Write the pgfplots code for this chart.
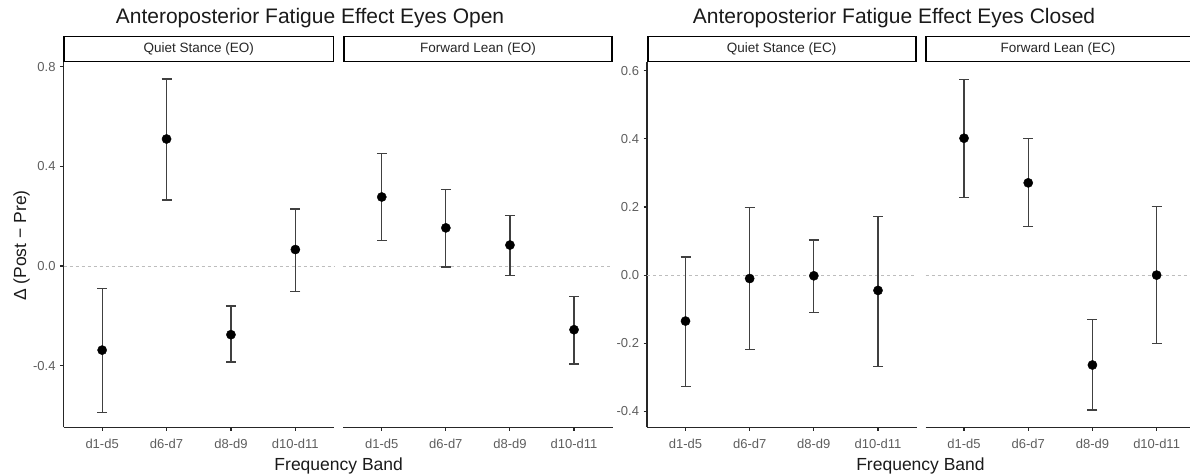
\documentclass[border=0pt]{standalone}
\usepackage{pgfplots}
\pgfplotsset{compat=1.18}
\usepackage{pgfplotstable}
\usepackage{fontspec}
\setmainfont{Liberation Sans}

\definecolor{axisgrey}{HTML}{262626}
\definecolor{tickgrey}{HTML}{5E5E5E}
\definecolor{bargrey}{HTML}{404040}
\definecolor{zerogrey}{HTML}{BDBDBD}
\definecolor{titleblack}{HTML}{1A1A1A}

% Mean change (y) with the upper (hi) and lower (lo) ends of each interval
\pgfplotstableread{
x y hi lo
0 -0.338 -0.089 -0.587
1 0.510 0.751 0.265
2 -0.276 -0.161 -0.386
3 0.066 0.229 -0.101
}\quietEO
\pgfplotstableread{
x y hi lo
0 0.277 0.451 0.102
1 0.153 0.306 -0.004
2 0.084 0.202 -0.038
3 -0.256 -0.122 -0.394
}\leanEO
\pgfplotstableread{
x y hi lo
0 -0.135 0.053 -0.326
1 -0.010 0.199 -0.218
2 -0.002 0.103 -0.109
3 -0.045 0.173 -0.268
}\quietEC
\pgfplotstableread{
x y hi lo
0 0.402 0.575 0.227
1 0.271 0.401 0.142
2 -0.264 -0.130 -0.396
3 0.000 0.202 -0.202
}\leanEC

\pgfplotsset{
  facet/.style={
    scale only axis, height=365bp, xmin=-0.6, xmax=3.6,
    anchor=north west, clip=false,
    axis x line*=bottom, axis y line*=left,
    axis line style={-, line width=1.5bp, draw=axisgrey},
    xtick={0,1,2,3}, xticklabels={d1-d5,d6-d7,d8-d9,d10-d11},
    tick align=outside, major tick length=3.5bp,
    tick style={line width=1.1bp, draw=axisgrey},
    ticklabel style={font=\fontsize{13bp}{15bp}\selectfont, text=tickgrey},
    xticklabel style={yshift=-4.5bp},
    yticklabel style={xshift=-1bp},
  },
  noyaxis/.style={ytick=\empty, y axis line style={draw=none}},
  zero/.style={zerogrey, line width=0.9bp, dash pattern=on 3bp off 3bp, forget plot},
  est/.style={
    only marks, mark=*, mark size=4.6bp, black,
    mark options={fill=black, draw=black},
    error bars/.cd, y dir=both, y explicit,
    error bar style={line width=1.2bp, bargrey},
    error mark options={line width=1.2bp, bargrey, mark size=5bp, rotate=90},
  },
}

\newcommand{\estimates}[1]{%
  \addplot[zero] coordinates {(-0.6,0) (3.6,0)};
  \addplot[est] table[x=x, y=y,
    y error plus expr=\thisrow{hi}-\thisrow{y},
    y error minus expr=\thisrow{y}-\thisrow{lo}] {#1};
}

\begin{document}
\begin{tikzpicture}
\path[use as bounding box] (0,0) rectangle (1190bp,-475bp);

% ---- Eyes open ----
\begin{axis}[facet, name=p1, at={(63.5bp,-62.3bp)}, width=270.5bp,
  ymin=-0.648, ymax=0.818,
  ytick={-0.4,0,0.4,0.8}, yticklabels={-0.4,0.0,0.4,0.8}]
  \estimates{\quietEO}
\end{axis}
\begin{axis}[facet, noyaxis, name=p2, at={(343.3bp,-62.3bp)}, width=269.2bp,
  ymin=-0.648, ymax=0.818]
  \estimates{\leanEO}
\end{axis}

% ---- Eyes closed ----
\begin{axis}[facet, name=p3, at={(647bp,-62.3bp)}, width=269.5bp,
  ymin=-0.447, ymax=0.625,
  ytick={-0.4,-0.2,0,0.2,0.4,0.6}, yticklabels={-0.4,-0.2,0.0,0.2,0.4,0.6}]
  \estimates{\quietEC}
\end{axis}
\begin{axis}[facet, noyaxis, name=p4, at={(925.5bp,-62.3bp)}, width=264.5bp,
  xmax=3.52, ymin=-0.447, ymax=0.625]
  \estimates{\leanEC}
\end{axis}

% strip headers
\tikzset{strip/.style={draw=black, line width=1.6bp, fill=white},
  striptext/.style={font=\fontsize{13.5bp}{15bp}\selectfont, text=axisgrey}}
\filldraw[strip] (64.2bp,-61.6bp) rectangle (333.6bp,-36.4bp);
\node[striptext] at (198.7bp,-49bp) {Quiet Stance (EO)};
\filldraw[strip] (344bp,-61.6bp) rectangle (611.8bp,-36.4bp);
\node[striptext] at (478bp,-49bp) {Forward Lean (EO)};
\filldraw[strip] (647.7bp,-61.6bp) rectangle (915.8bp,-36.4bp);
\node[striptext] at (781.7bp,-49bp) {Quiet Stance (EC)};
\fill[white] (926.2bp,-61.6bp) rectangle (1190bp,-36.4bp);
\draw[draw=black, line width=1.6bp] (1190bp,-36.4bp) -- (926.2bp,-36.4bp)
  -- (926.2bp,-61.6bp) -- (1190bp,-61.6bp);
\node[striptext] at (1058bp,-49bp) {Forward Lean (EC)};

% titles
\tikzset{ttl/.style={font=\fontsize{21bp}{24bp}\selectfont, text=titleblack, anchor=base},
  axt/.style={font=\fontsize{17.5bp}{20bp}\selectfont, text=titleblack}}
\node[ttl] at (310bp,-23bp) {Anteroposterior Fatigue Effect Eyes Open};
\node[ttl] at (894bp,-23bp) {Anteroposterior Fatigue Effect Eyes Closed};
\node[axt, anchor=base] at (338.7bp,-470bp) {Frequency Band};
\node[axt, anchor=base] at (920.5bp,-470bp) {Frequency Band};
\node[axt, rotate=90] at (21.7bp,-245.6bp) {Δ (Post − Pre)};
\end{tikzpicture}
\end{document}
